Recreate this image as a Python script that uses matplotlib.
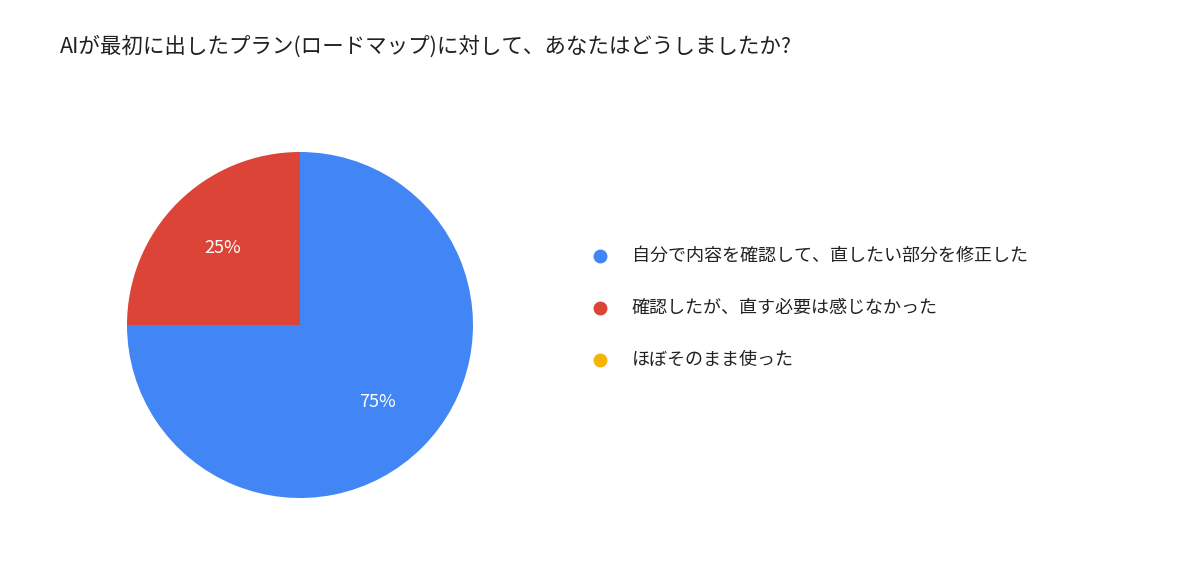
import matplotlib
matplotlib.use("Agg")
import matplotlib.pyplot as plt
from matplotlib.lines import Line2D

plt.rcParams['font.family'] = ['Noto Sans CJK JP', 'DejaVu Sans']

title = "AIが最初に出したプラン(ロードマップ)に対して、あなたはどうしましたか?"
labels = ["自分で内容を確認して、直したい部分を修正した",
          "確認したが、直す必要は感じなかった",
          "ほぼそのまま使った"]
values = [75, 25, 0]
colors = ["#4285F4", "#DB4437", "#F4B400"]

fig = plt.figure(figsize=(12, 5.76), dpi=100)
fig.text(60/1200, 1-47/576, title, fontsize=15.5, color="#212121", va="center", ha="left")

ax = fig.add_axes([127/1200, (576-325-173)/576, 346/1200, 346/576])
ax.pie(values, colors=colors, startangle=90, counterclock=False,
       autopct=lambda p: f"{p:.0f}%" if p > 0 else "",
       pctdistance=0.63, textprops=dict(color="white", fontsize=13),
       wedgeprops=dict(linewidth=0))
ax.set_xlim(-1, 1)
ax.set_ylim(-1, 1)
ax.set_aspect('equal')

for i, (lab, c) in enumerate(zip(labels, colors)):
    y = 1 - (256 + 52*i)/576
    fig.add_artist(Line2D([600/1200], [y], marker='o', markersize=9, color=c,
                          linestyle='none', transform=fig.transFigure))
    fig.text(632/1200, y, lab, fontsize=13, color="#222222", va="center", ha="left")

fig.savefig("out.png", dpi=100, facecolor="white")
